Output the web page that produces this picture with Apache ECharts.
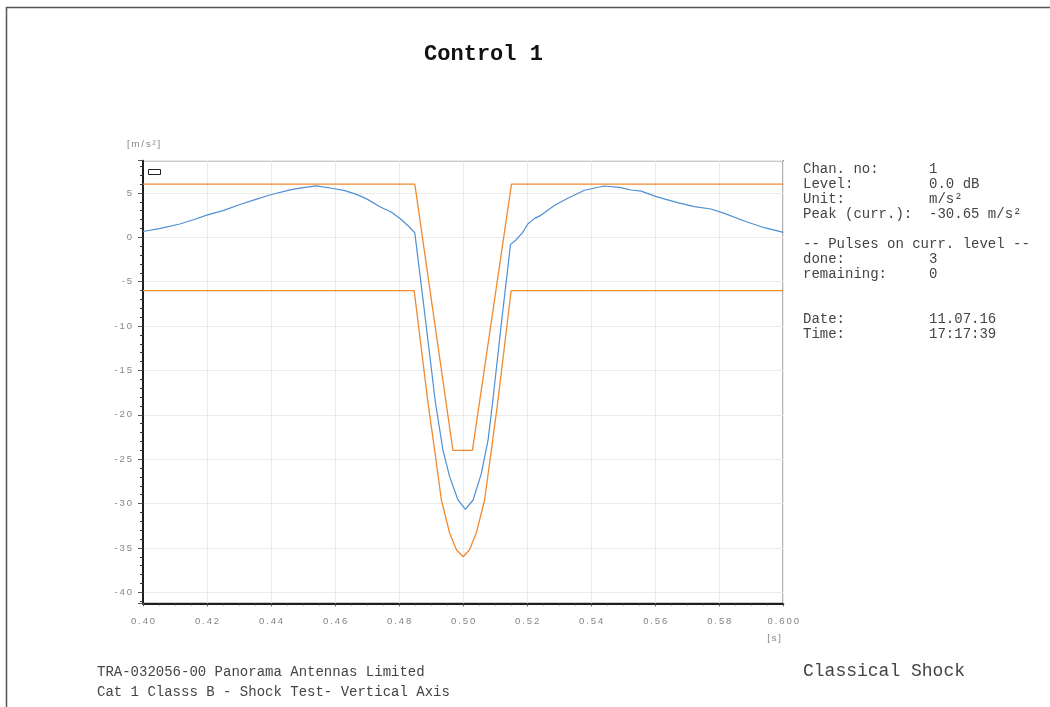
<!DOCTYPE html>
<html>
<head>
<meta charset="utf-8">
<title>Control 1</title>
<script src="https://cdn.jsdelivr.net/npm/echarts@6.0.0/dist/echarts.min.js"></script>
<style>
  html, body { margin: 0; padding: 0; background: #ffffff; }
  #chart { width: 1050px; height: 707px; }
</style>
</head>
<body>
<div id="chart"></div>
<script>
// Measured control signal [time s, acceleration m/s²]
const controlSignal = [
  [0.4000, 0.65], [0.4055, 1.0], [0.4115, 1.5], [0.4160, 2.0], [0.4199, 2.5],
  [0.4250, 3.0], [0.4303, 3.7], [0.4350, 4.25], [0.4396, 4.77], [0.4459, 5.35],
  [0.4500, 5.6], [0.4542, 5.8], [0.4594, 5.5], [0.4630, 5.25], [0.4667, 4.84],
  [0.4700, 4.3], [0.4740, 3.45], [0.4775, 2.85], [0.4802, 2.14], [0.4833, 1.13],
  [0.4849, 0.5], [0.4882, -9.2], [0.4913, -18.5], [0.4937, -24.0], [0.4958, -27.0],
  [0.4984, -29.6], [0.5007, -30.65], [0.5031, -29.6], [0.5057, -26.6], [0.5078, -22.8],
  [0.5093, -18.3], [0.5120, -9.5], [0.5148, -0.8], [0.5165, -0.3], [0.5185, 0.5],
  [0.5202, 1.5], [0.5222, 2.1], [0.5244, 2.5], [0.5286, 3.6], [0.5327, 4.4],
  [0.5379, 5.3], [0.5441, 5.78], [0.5488, 5.63], [0.5525, 5.33], [0.5556, 5.2],
  [0.5603, 4.58], [0.5670, 3.9], [0.5722, 3.45], [0.5774, 3.19], [0.5816, 2.7],
  [0.5878, 1.84], [0.5941, 1.08], [0.6000, 0.56]
];

// Upper tolerance limit
const upperLimit = [
  [0.4000, 6], [0.4849, 6], [0.4968, -24], [0.5029, -24], [0.5151, 6], [0.6000, 6]
];

// Lower tolerance limit
const lowerLimit = [
  [0.4000, -6], [0.4847, -6], [0.4890, -18.6], [0.4911, -24], [0.4932, -29.6],
  [0.4958, -33.35], [0.4979, -35.2], [0.5000, -36], [0.5020, -35.2], [0.5042, -33.2],
  [0.5067, -29.6], [0.5088, -24], [0.5108, -18.6], [0.5150, -6], [0.6000, -6]
];

const xTickLabels = ['0.40', '0.42', '0.44', '0.46', '0.48', '0.50', '0.52', '0.54', '0.56', '0.58', '0.600'];

const infoLines = [
  'Chan. no:      1',
  'Level:         0.0 dB',
  'Unit:          m/s\u00b2',
  'Peak (curr.):  -30.65 m/s\u00b2',
  '',
  '-- Pulses on curr. level --',
  'done:          3',
  'remaining:     0',
  '',
  '',
  'Date:          11.07.16',
  'Time:          17:17:39'
];

const footerLines = [
  'TRA-032056-00 Panorama Antennas Limited',
  'Cat 1 Classs B - Shock Test- Vertical Axis'
];

const X_MIN = 0.40, X_MAX = 0.60, X_STEP = 0.02;
const Y_MIN = -41.24, Y_MAX = 8.63;

// widen tick labels with thin spaces between characters
function spaced(s) { return String(s).split('').join('\u2009'); }

const MONO = '"Liberation Mono", "DejaVu Sans Mono", monospace';
const TICK_FONT = '"Liberation Sans", Arial, sans-serif';
const TICK_COLOR = '#858585';
const GRID_LINE = '#ebebeb';
const TEXT_COLOR = '#444444';

const chart = echarts.init(document.getElementById('chart'), null, { renderer: 'canvas' });

chart.setOption({
  animation: false,
  backgroundColor: '#ffffff',
  grid: {
    left: 143, right: 266.7, top: 160.7, bottom: 103.7,
    show: true, borderColor: '#2a2a2a', borderWidth: 1.3, backgroundColor: 'transparent'
  },
  xAxis: {
    type: 'value', min: X_MIN, max: X_MAX, interval: X_STEP,
    axisLine: { show: true, onZero: false, lineStyle: { color: '#1e1e1e', width: 2 } },
    axisTick: { show: true, length: 3, lineStyle: { color: '#555' } },
    minorTick: { show: true, splitNumber: 4, length: 2, lineStyle: { color: '#333' } },
    splitLine: { show: true, lineStyle: { color: GRID_LINE, width: 1 } },
    axisLabel: {
      margin: 13, fontSize: 9.5, fontFamily: TICK_FONT, color: TICK_COLOR,
      formatter: function (v) {
        const i = Math.round((v - X_MIN) / X_STEP);
        return spaced(xTickLabels[i] !== undefined ? xTickLabels[i] : '');
      }
    }
  },
  yAxis: [
    {
      // fine ticks every 1 m/s²
      type: 'value', min: Y_MIN, max: Y_MAX, splitNumber: 50, position: 'left',
      axisLine: { show: true, onZero: false, lineStyle: { color: '#1e1e1e', width: 2 } },
      axisTick: { show: true, length: 3, lineStyle: { color: '#333' } },
      axisLabel: { show: false },
      splitLine: { show: false }
    },
    {
      // labelled ticks and grid every 5 m/s²
      type: 'value', min: Y_MIN, max: Y_MAX, splitNumber: 10, position: 'left',
      axisLine: { show: false },
      axisTick: { show: true, length: 5, lineStyle: { color: '#555' } },
      splitLine: { show: true, lineStyle: { color: GRID_LINE, width: 1 } },
      axisLabel: {
        margin: 11, fontSize: 9.5, fontFamily: TICK_FONT, color: TICK_COLOR,
        formatter: function (v) {
          const q = v / 5;
          if (Math.abs(q - Math.round(q)) > 1e-6) return '';
          return spaced(String(Math.round(v)));
        }
      }
    }
  ],
  series: [
    {
      name: 'Upper limit', type: 'line', yAxisIndex: 0, data: upperLimit,
      showSymbol: false, symbol: 'none', z: 3,
      lineStyle: { color: '#f28a30', width: 1.3 }
    },
    {
      name: 'Lower limit', type: 'line', yAxisIndex: 0, data: lowerLimit,
      showSymbol: false, symbol: 'none', z: 3,
      lineStyle: { color: '#f28a30', width: 1.3 }
    },
    {
      name: 'Control 1', type: 'line', yAxisIndex: 0, data: controlSignal,
      showSymbol: false, symbol: 'none', z: 4,
      lineStyle: { color: '#4f8fd4', width: 1.2 }
    }
  ],
  graphic: [
    // page frame
    { type: 'line', shape: { x1: 6.5, y1: 7.5, x2: 1050, y2: 7.5 }, style: { stroke: '#555', lineWidth: 1.5 }, z: 10 },
    { type: 'line', shape: { x1: 6.5, y1: 7, x2: 6.5, y2: 707 }, style: { stroke: '#555', lineWidth: 1.5 }, z: 10 },
    // title
    {
      type: 'text', x: 483.5, y: 54, z: 10,
      style: { text: 'Control 1', font: 'bold 22px ' + MONO, fill: '#111', align: 'center', verticalAlign: 'middle' }
    },
    // unit labels
    {
      type: 'text', x: 127, y: 144.5, z: 10,
      style: { text: spaced('[m/s\u00b2]'), font: '9.5px ' + TICK_FONT, fill: TICK_COLOR, align: 'left', verticalAlign: 'middle' }
    },
    {
      type: 'text', x: 781, y: 638.5, z: 10,
      style: { text: spaced('[s]'), font: '9.5px ' + TICK_FONT, fill: TICK_COLOR, align: 'right', verticalAlign: 'middle' }
    },
    // empty legend key
    {
      type: 'rect', shape: { x: 148.5, y: 169.5, width: 12, height: 5 }, z: 10,
      style: { fill: '#ffffff', stroke: '#222', lineWidth: 1 }
    },
    // channel info panel
    {
      type: 'text', x: 803, y: 161.5, z: 10,
      style: { text: infoLines.join('\n'), font: '14px ' + MONO, lineHeight: 15, fill: TEXT_COLOR, align: 'left', verticalAlign: 'top' }
    },
    // footer
    {
      type: 'text', x: 97, y: 662.5, z: 10,
      style: { text: footerLines.join('\n'), font: '14px ' + MONO, lineHeight: 20, fill: TEXT_COLOR, align: 'left', verticalAlign: 'top' }
    },
    {
      type: 'text', x: 803, y: 671, z: 10,
      style: { text: 'Classical Shock', font: '18px ' + MONO, fill: TEXT_COLOR, align: 'left', verticalAlign: 'middle' }
    }
  ]
});
</script>
</body>
</html>
